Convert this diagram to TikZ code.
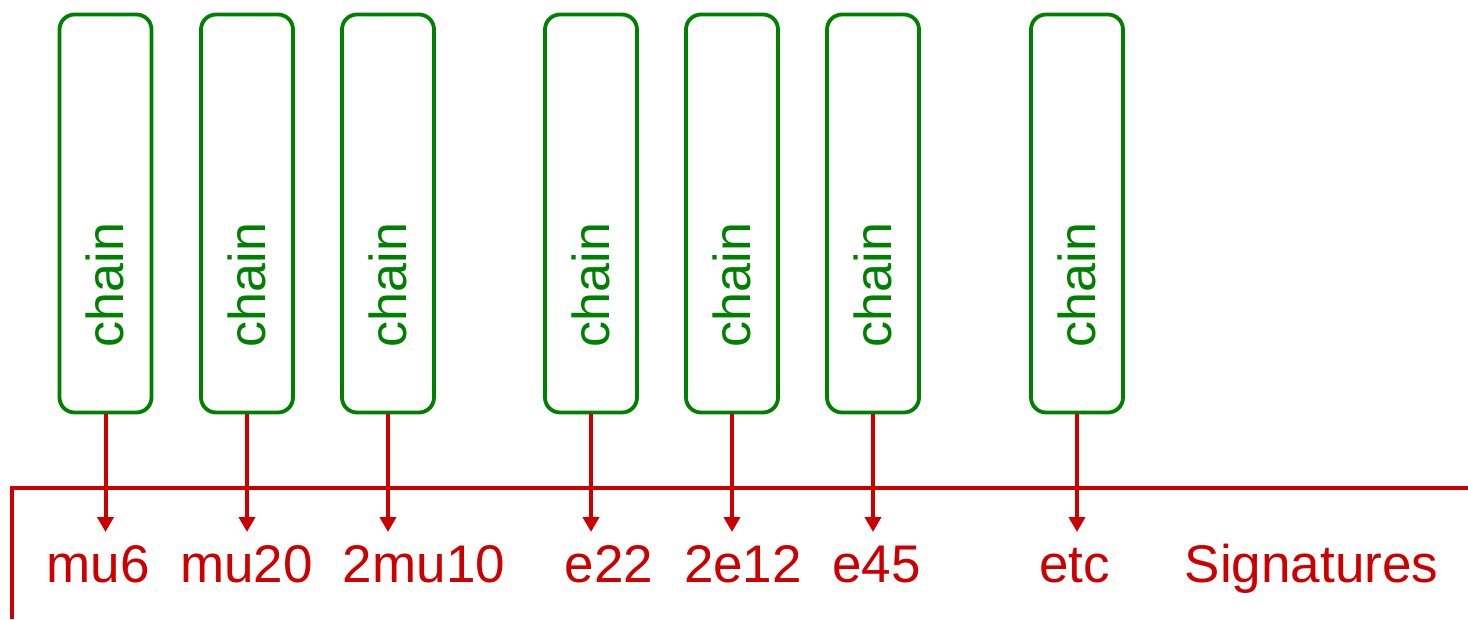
\documentclass[tikz,border=0pt]{standalone}
\usepackage{fontspec}
\setmainfont{Liberation Sans}
\usetikzlibrary{arrows.meta}
\definecolor{boxgreen}{RGB}{0,128,0}
\definecolor{sigred}{RGB}{204,0,0}
\tikzset{
  chainbox/.style={draw=boxgreen, line width=3.8pt, rounded corners=15pt, rectangle,
    minimum width=92pt, minimum height=398pt, inner sep=0pt},
  chainlabel/.style={text=boxgreen, rotate=90, anchor=base, inner sep=0pt,
    font=\fontsize{52}{60}\selectfont},
  sigarrow/.style={draw=sigred, line width=4pt, -{Triangle[length=15pt,width=16pt]}},
  siglabel/.style={text=sigred, anchor=base, inner sep=0pt,
    font=\fontsize{53}{60}\selectfont},
  sigline/.style={draw=sigred, line width=3.5pt}
}
\begin{document}
\begin{tikzpicture}[x=1pt,y=-1pt]
\useasboundingbox (0,0) rectangle (1468,619);
% boxes
\foreach \n/\x in {1/105.5,2/247,3/388,4/591,5/732,6/873,7/1077}{
  \node[chainbox] (b\n) at (\x,213.5) {};
  \node[chainlabel] (c\n) at (\x+18,285) {chain};
  \coordinate (t\n) at (\x,532);
  \draw[sigarrow] (b\n.south) -- (t\n);
}
% signature line
\coordinate (r) at (1468,488);
\coordinate (l) at (12,488);
\coordinate (d) at (12,619);
\draw[sigline] (r) -- (l) -- (d);
% labels
\node[siglabel] (s1) at (98,582) {mu6};
\node[siglabel] (s2) at (246.5,582) {mu20};
\node[siglabel] (s3) at (424,582) {2mu10};
\node[siglabel] (s4) at (609,582) {e22};
\node[siglabel] (s5) at (743,582) {2e12};
\node[siglabel] (s6) at (876.5,582) {e45};
\node[siglabel] (s7) at (1074.5,582) {etc};
\node[siglabel] (s8) at (1311.5,582) {Signatures};
\end{tikzpicture}
\end{document}
